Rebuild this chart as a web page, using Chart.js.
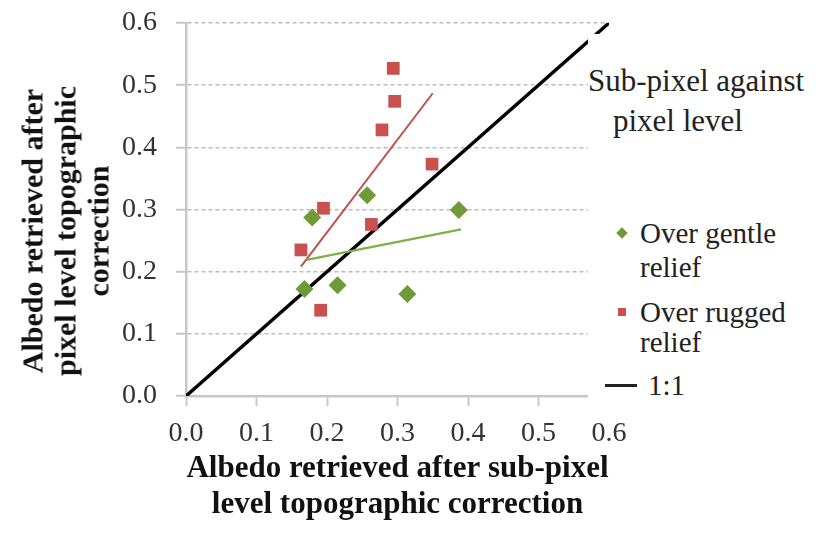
<!DOCTYPE html>
<html>
<head>
<meta charset="utf-8">
<script src="https://cdn.jsdelivr.net/npm/chart.js@4"></script>
<style>
  body { margin: 0; background: #fff; }
  #wrap { position: relative; width: 827px; height: 534px; overflow: hidden; }
  #ytitle {
    position: absolute; left: 65px; top: 231px; width: 420px;
    transform: translate(-50%, -50%) rotate(-90deg);
    font-family: "Liberation Serif", serif;
    text-align: center; font-weight: bold; font-size: 30px; line-height: 33px; color: #111;
  }
  #legend { position: absolute; left: 588px; top: 34px; width: 239px; height: 374px; background: #fff; color: #222; }
  #legend .t { position: absolute; white-space: nowrap; line-height: 1; transform: translateY(-50%);
               font-family: "Liberation Serif", serif; font-weight: normal; }
  #legend .head { font-size: 31px; }
  #legend .item { font-size: 29px; }
</style>
</head>
<body>
<div id="wrap">
  <canvas id="chart" width="827" height="534"></canvas>
  <div id="ytitle">Albedo retrieved after<br>pixel level topographic<br>correction</div>
  <div id="legend"></div>
</div>
<script>
// values
const axisTicks = [0, 0.1, 0.2, 0.3, 0.4, 0.5, 0.6];

const gentleX = [0.168, 0.179, 0.215, 0.257, 0.314, 0.387];
const gentleY = [0.172, 0.287, 0.178, 0.323, 0.164, 0.299];

const ruggedX = [0.163, 0.191, 0.195, 0.263, 0.278, 0.294, 0.296, 0.349];
const ruggedY = [0.235, 0.138, 0.302, 0.276, 0.428, 0.527, 0.474, 0.373];

const gentleTrendX = [0.171, 0.390];
const gentleTrendY = [0.219, 0.268];
const ruggedTrendX = [0.163, 0.350];
const ruggedTrendY = [0.208, 0.487];

const oneToOne = [0, 0.6];

const legendHead = ['Sub-pixel against', 'pixel level'];
const legendItems = [['Over gentle', 'relief'], ['Over rugged', 'relief'], ['1:1']];

const SERIF = '"Liberation Serif", "Times New Roman", serif';
const GREEN = '#6f9a37';
const GREEN_LINE = '#80b046';
const RED = '#c9504f';
const RED_LINE = '#c0504d';

const pts = (xs, ys) => xs.map((x, i) => ({ x, y: ys[i] }));

new Chart(document.getElementById('chart'), {
    type: 'scatter',
    data: {
        datasets: [
            { label: 'Over gentle relief', data: pts(gentleX, gentleY), pointStyle: 'rectRot', pointRadius: 9,
              backgroundColor: GREEN, borderWidth: 0, order: 0 },
            { label: 'Over rugged relief', data: pts(ruggedX, ruggedY), pointStyle: 'rect', pointRadius: 9,
              backgroundColor: RED, borderWidth: 0, order: 0 },
            { type: 'line', data: pts(gentleTrendX, gentleTrendY), borderColor: GREEN_LINE, borderWidth: 2.5,
              pointRadius: 0, order: 1 },
            { type: 'line', data: pts(ruggedTrendX, ruggedTrendY), borderColor: RED_LINE, borderWidth: 2,
              pointRadius: 0, order: 1 },
            { type: 'line', label: '1:1', data: pts(oneToOne, oneToOne), borderColor: '#000', borderWidth: 3.5,
              pointRadius: 0, order: 2 },
        ],
    },
    options: {
        responsive: false,
        animation: false,
        devicePixelRatio: 1,
        layout: { padding: { left: 116, right: 218, top: 23, bottom: 0 } },
        plugins: { legend: { display: false }, tooltip: { enabled: false } },
        scales: {
            x: {
                type: 'linear', min: 0, max: 0.6,
                afterBuildTicks: s => { s.ticks = axisTicks.map(v => ({ value: v })); },
                afterFit: s => { s.height = 138; s.paddingLeft = 0; s.paddingRight = 0; },
                ticks: { font: { family: SERIF, size: 28 }, color: '#333', padding: 11,
                         callback: v => v.toFixed(1) },
                grid: { drawOnChartArea: false, tickLength: 10, tickColor: '#c8c8c8', tickWidth: 2 },
                border: { color: '#c8c8c8', width: 2.5 },
                title: { display: true, text: ['Albedo retrieved after sub-pixel', 'level topographic correction'],
                         font: { family: SERIF, size: 31, weight: 'bold', lineHeight: 1.13 },
                         color: '#111', padding: { top: 0, bottom: 12 } },
            },
            y: {
                type: 'linear', min: 0, max: 0.6,
                afterBuildTicks: s => { s.ticks = axisTicks.map(v => ({ value: v })); },
                afterFit: s => { s.width = 70; s.paddingTop = 0; s.paddingBottom = 0; },
                ticks: { font: { family: SERIF, size: 28 }, color: '#333', padding: 19,
                         callback: v => v.toFixed(1) },
                grid: { color: '#bdbdbd', lineWidth: 1.5, tickLength: 10, tickColor: '#c8c8c8', tickWidth: 2 },
                border: { color: '#c8c8c8', width: 2.5, dash: [4, 3] },
            },
        },
    },
});

// legend box laid over the right edge of the plot, as in the reference
const legend = document.getElementById('legend');
const put = (cls, text, left, cy) => {
    const d = document.createElement('div');
    d.className = 't ' + cls;
    d.textContent = text;
    d.style.left = (left - 588) + 'px';
    d.style.top = (cy - 34) + 'px';
    legend.appendChild(d);
};
put('head', legendHead[0], 588, 80);
put('head', legendHead[1], 613, 120);
put('item', legendItems[0][0], 640, 233);
put('item', legendItems[0][1], 640, 267);
put('item', legendItems[1][0], 640, 312);
put('item', legendItems[1][1], 640, 342);
put('item', legendItems[2][0], 648, 385);

const mark = (css) => {
    const d = document.createElement('div');
    d.style.position = 'absolute';
    Object.assign(d.style, css);
    legend.appendChild(d);
};
mark({ left: (618 - 588) + 'px', top: (229 - 34) + 'px', width: '8px', height: '8px', background: GREEN, transform: 'rotate(45deg)' });
mark({ left: (618 - 588) + 'px', top: (308 - 34) + 'px', width: '8px', height: '8px', background: RED });
mark({ left: (605 - 588) + 'px', top: (384 - 34) + 'px', width: '32px', height: '3px', background: '#222' });
</script>
</body>
</html>
